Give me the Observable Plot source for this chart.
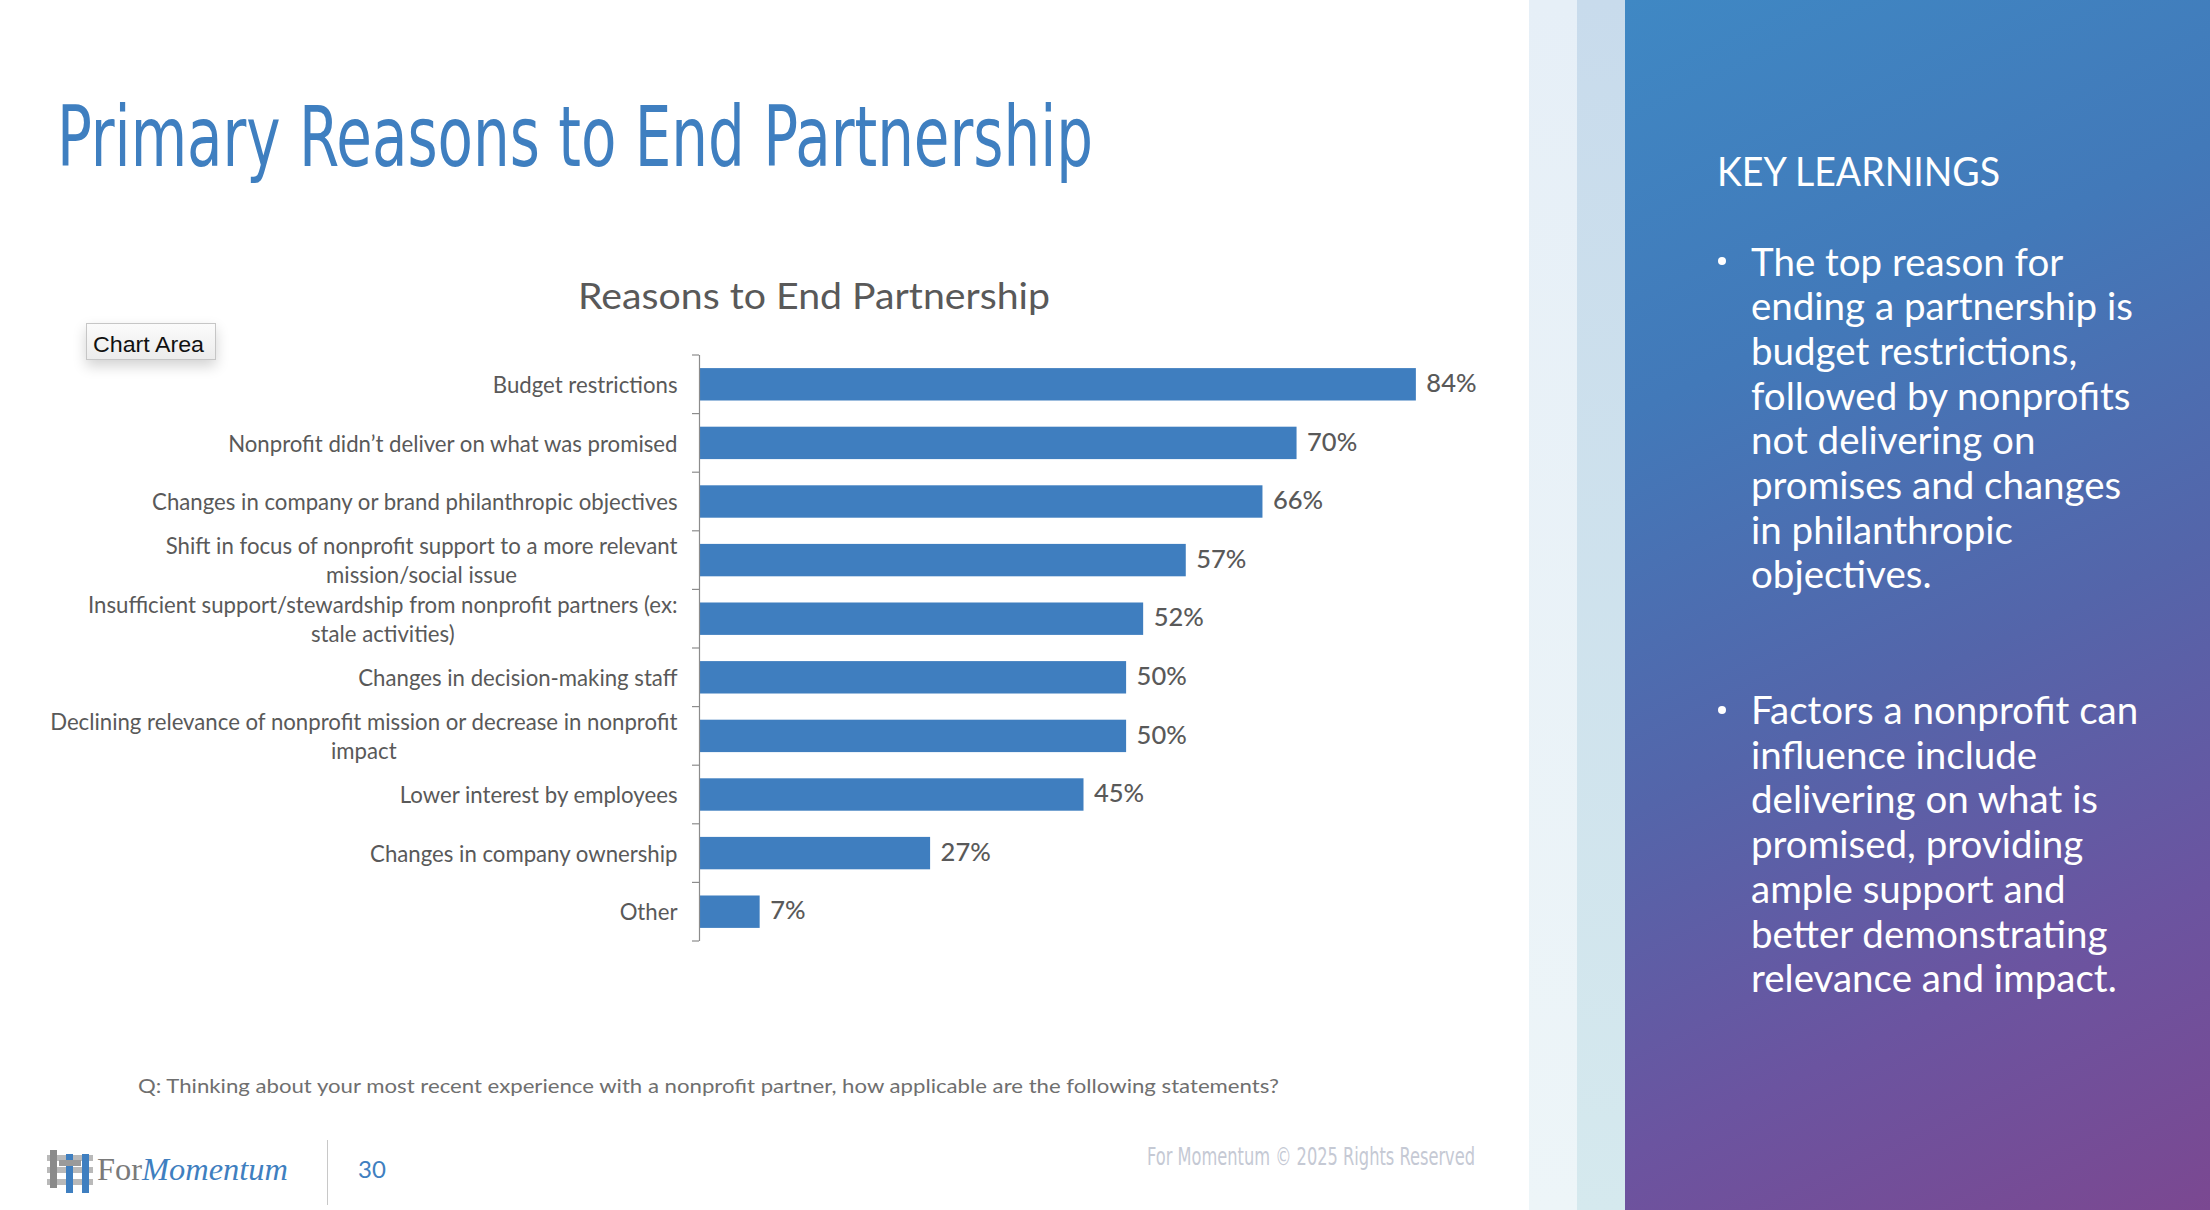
<!DOCTYPE html>
<html><head><meta charset="utf-8">
<script src="https://cdn.jsdelivr.net/npm/d3@7"></script>
<script src="https://cdn.jsdelivr.net/npm/@observablehq/plot@0.6"></script>
<style>
html,body{margin:0;padding:0;}
body{width:2210px;height:1210px;position:relative;overflow:hidden;background:#fff;font-family:Lato,sans-serif;}
.t{position:absolute;white-space:nowrap;line-height:1;}
#chart{position:absolute;left:0;top:330px;}
</style></head><body>
<div style="position:absolute;left:1529px;top:0;width:48px;height:1210px;background:linear-gradient(#e6eff7,#edf5f8);"></div>
<div style="position:absolute;left:1577px;top:0;width:48px;height:1210px;background:linear-gradient(#c8dbec,#d5e9ee);"></div>
<div style="position:absolute;left:1625px;top:0;width:585px;height:1210px;background:linear-gradient(155deg,#3f88c4 0%,#4279b9 28%,#5465aa 55%,#6b54a0 78%,#7b4891 100%);"></div>
<div style="position:absolute;left:86px;top:323px;width:128px;height:35px;border:1px solid #c6c6c6;background:linear-gradient(#fbfbfb,#ececec);box-shadow:0 6px 14px rgba(0,0,0,0.18);"></div>
<div style="position:absolute;left:327px;top:1140px;width:1px;height:65px;background:#c8c8c8;"></div>
<svg style="position:absolute;left:47px;top:1150px" width="46" height="43" viewBox="0 0 46 43">
  <rect x="0" y="5" width="46" height="6" fill="#b9b9b9"/>
  <rect x="0" y="17" width="46" height="6" fill="#b9b9b9"/>
  <rect x="0" y="29" width="46" height="6" fill="#b9b9b9"/>
  <rect x="3" y="0" width="7" height="38" fill="#8a8a8a"/>
  <rect x="19" y="4" width="7" height="39" fill="#3f7fc0"/>
  <rect x="35" y="4" width="7" height="39" fill="#3f7fc0"/>
  <rect x="12" y="10" width="22" height="6" fill="#9a9a9a"/>
</svg>
<script>
// ---- data ----
const categories = [
  "Budget restrictions",
  "Nonprofit didn’t deliver on what was promised",
  "Changes in company or brand philanthropic objectives",
  "Shift in focus of nonprofit support to a more relevant\nmission/social issue",
  "Insufficient support/stewardship from nonprofit partners (ex:\nstale activities)",
  "Changes in decision-making staff",
  "Declining relevance of nonprofit mission or decrease in nonprofit\nimpact",
  "Lower interest by employees",
  "Changes in company ownership",
  "Other"
];
const values = [84, 70, 66, 57, 52, 50, 50, 45, 27, 7];
const pageTitle = "Primary Reasons to End Partnership";
const chartTitle = "Reasons to End Partnership";
const question = "Q: Thinking about your most recent experience with a nonprofit partner, how applicable are the following statements?";
const keyTitle = "KEY LEARNINGS";
const bullet1 = ["The top reason for", "ending a partnership is", "budget restrictions,", "followed by nonprofits", "not delivering on", "promises and changes", "in philanthropic", "objectives."];
const bullet2 = ["Factors a nonprofit can", "influence include", "delivering on what is", "promised, providing", "ample support and", "better demonstrating", "relevance and impact."];
const copyright = "For Momentum © 2025 Rights Reserved";
const pageNumber = "30";

const data = categories.map((c, i) => ({category: c, value: values[i]}));

// ---- text helper ----
function addText(content, o) {
  const el = document.createElement("div");
  el.className = "t";
  if (o.html) el.innerHTML = content; else el.textContent = content;
  Object.assign(el.style, {left: o.x + "px", top: "0px", fontSize: o.size + "px", fontFamily: o.font, color: o.color, fontWeight: o.weight || 400});
  if (o.lh) el.style.lineHeight = o.lh + "px";
  document.body.appendChild(el);
  const mk = document.createElement("span");
  mk.style.cssText = "display:inline-block;width:0;height:0;vertical-align:baseline";
  el.insertBefore(mk, el.firstChild);
  const b = mk.getBoundingClientRect().top - el.getBoundingClientRect().top;
  el.style.top = (o.baseline - b) + "px";
  if (o.fitW) {
    const w = el.getBoundingClientRect().width;
    el.style.transformOrigin = "0 0";
    el.style.transform = `scaleX(${o.fitW / w})`;
  }
  return el;
}

const NARROW = "'Liberation Sans Narrow','DejaVu Sans Condensed',sans-serif";
addText(pageTitle, {x: 57, baseline: 166, size: 84, font: NARROW, color: "#3f7fc0", fitW: 1036});
addText(chartTitle, {x: 578, baseline: 309, size: 36, font: "Lato", color: "#595959", fitW: 472});
addText("Chart Area", {x: 93, baseline: 352, size: 22, font: "'Liberation Sans',Arial,sans-serif", color: "#111", fitW: 111});
addText(question, {x: 138, baseline: 1093, size: 20, font: "Lato", color: "#6f6f6f", fitW: 1141});
addText('<span style="color:#7a7a7a">For</span><span style="color:#3f7fc0;font-style:italic">Momentum</span>', {html: true, x: 97, baseline: 1180, size: 31, font: "'Liberation Serif',serif", fitW: 191});
addText(pageNumber, {x: 358, baseline: 1178, size: 24, font: "Lato", color: "#3f7fc0"});
addText(copyright, {x: 1147, baseline: 1165, size: 25, font: NARROW, color: "#c5c9d4", fitW: 328});
addText(keyTitle, {x: 1717, baseline: 186, size: 40, font: "Lato", weight: 400, color: "#fff", fitW: 283});
addText(bullet1.join("<br>"), {html: true, x: 1751, baseline: 275.5, size: 38.5, lh: 44.7, font: "Lato", color: "#fff"});
addText(bullet2.join("<br>"), {html: true, x: 1751, baseline: 724, size: 38.5, lh: 44.7, font: "Lato", color: "#fff"});
for (const cy of [261, 709.5]) {
  const d = document.createElement("div");
  d.style.cssText = `position:absolute;left:1718px;top:${cy - 4}px;width:8px;height:8px;border-radius:50%;background:#fff;`;
  document.body.appendChild(d);
}

// ---- chart ----
const PI = 0.447;
const LABEL_SIZE = 22.2;
function boundaryTicks(index, scales, vals, dims) {
  const n = categories.length;
  const top = dims.marginTop, bottom = dims.height - dims.marginBottom;
  const step = (bottom - top) / n;
  const x0 = scales.x(0);
  const g = d3.create("svg:g").attr("stroke", "#8c8c8c").attr("stroke-width", 1.2);
  for (let i = 0; i <= n; i++) {
    const yy = top + i * step;
    g.append("line").attr("x1", x0 - 8).attr("x2", x0 - 1).attr("y1", yy).attr("y2", yy);
  }
  return g.node();
}

const chart = Plot.plot({
  width: 1529, height: 640,
  marginTop: 25, marginBottom: 29, marginLeft: 700, marginRight: 62,
  x: {domain: [0, 90], axis: null, round: false},
  y: {domain: categories, axis: null, paddingInner: PI, paddingOuter: PI / 2, round: false},
  style: {fontFamily: "Lato, sans-serif", background: "transparent", overflow: "visible"},
  marks: [
    Plot.barX(data, {x: "value", y: "category", fill: "#3f7ebf"}),
    Plot.ruleX([0], {dx: -1, stroke: "#8c8c8c", strokeWidth: 1.2}),
    boundaryTicks,
    Plot.text(data, {y: "category", text: "category", frameAnchor: "left", dx: -23, dy: -1, textAnchor: "end", lineAnchor: "middle", lineHeight: 29 / LABEL_SIZE, fontSize: LABEL_SIZE, fill: "#595959"}),
    Plot.text(data, {x: "value", y: "category", text: d => d.value + "%", dx: 10, dy: -1, textAnchor: "start", fontSize: 25.5, fill: "#595959", fontWeight: 500})
  ]
});
chart.id = "chart";
document.body.appendChild(chart);

// center the lines of two-line category labels within their right-aligned block
const labelGroup = chart.querySelectorAll('g[aria-label="text"]')[0];
labelGroup.querySelectorAll("text").forEach(t => {
  const ts = t.querySelectorAll("tspan");
  if (ts.length > 1) {
    let m = 0;
    ts.forEach(s => m = Math.max(m, s.getComputedTextLength()));
    t.setAttribute("text-anchor", "middle");
    ts.forEach(s => s.setAttribute("x", -m / 2));
  }
});
</script>
</body></html>
